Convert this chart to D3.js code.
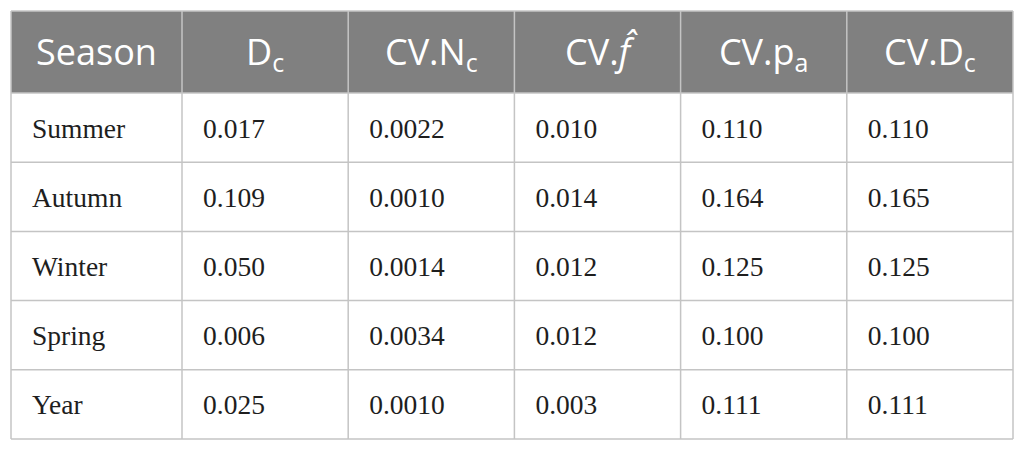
<!DOCTYPE html>
<html>
<head>
<meta charset="utf-8">
<script src="https://cdn.jsdelivr.net/npm/d3@7"></script>
<style>
  body { margin: 0; background: #fff; }
</style>
</head>
<body>
<div id="table-chart"></div>
<script>
var width = 1025,
    height = 450,
    margin = { top: 11, right: 12, bottom: 11, left: 11 },
    headerHeight = 82,
    firstColRight = 182;

// table contents
var seasons = ["Summer", "Autumn", "Winter", "Spring", "Year"];
var dc = ["0.017", "0.109", "0.050", "0.006", "0.025"];
var cvNc = ["0.0022", "0.0010", "0.0014", "0.0034", "0.0010"];
var cvF = ["0.010", "0.014", "0.012", "0.012", "0.003"];
var cvPa = ["0.110", "0.164", "0.125", "0.100", "0.111"];
var cvDc = ["0.110", "0.165", "0.125", "0.100", "0.111"];

// headers: main text + subscript (f-hat handled separately)
var headers = [
    { main: "Season", sub: "" },
    { main: "D", sub: "c" },
    { main: "CV.N", sub: "c" },
    { main: "CV.", sub: "", hat: true },
    { main: "CV.p", sub: "a" },
    { main: "CV.D", sub: "c" }
];

var columns = [seasons, dc, cvNc, cvF, cvPa, cvDc];

// first column is a bit wider, the value columns share the rest
var xv = d3.scaleLinear()
    .domain([1, headers.length])
    .range([firstColRight, width - margin.right]);
function edge(i) { return i === 0 ? margin.left : xv(i); }
function colWidth(i) { return edge(i + 1) - edge(i); }

var y = d3.scaleBand()
    .domain(d3.range(seasons.length))
    .range([margin.top + headerHeight, height - margin.bottom]);

var svg = d3.select("#table-chart").append("svg")
    .attr("width", width)
    .attr("height", height);

// header background
svg.append("rect")
    .attr("x", margin.left)
    .attr("y", margin.top)
    .attr("width", width - margin.left - margin.right)
    .attr("height", headerHeight)
    .attr("fill", "#808080");

// header labels
var head = svg.selectAll(".head")
    .data(headers)
    .enter().append("text")
    .attr("class", "head")
    .attr("x", function (d, i) { return edge(i) + colWidth(i) / 2; })
    .attr("y", margin.top + 54)
    .attr("text-anchor", "middle")
    .attr("fill", "#fff")
    .style("font-family", "'Open Sans', sans-serif")
    .style("font-size", "36px");

head.append("tspan").text(function (d) { return d.main; });
head.filter(function (d) { return d.hat; })
    .append("tspan")
    .style("font-style", "italic")
    .text("f\u0302");
head.filter(function (d) { return d.sub; })
    .append("tspan")
    .attr("dy", 7)
    .style("font-size", "25px")
    .text(function (d) { return d.sub; });

// body cells
var cells = [];
columns.forEach(function (col, c) {
    col.forEach(function (v, r) { cells.push({ c: c, r: r, v: v }); });
});

svg.selectAll(".cell")
    .data(cells)
    .enter().append("text")
    .attr("class", "cell")
    .attr("x", function (d) { return edge(d.c) + 21; })
    .attr("y", function (d) { return y(d.r) + y.bandwidth() / 2 + 10; })
    .attr("fill", "#1e1e1e")
    .style("font-family", "'Liberation Serif', serif")
    .style("font-size", "27.5px")
    .text(function (d) { return d.v; });

// grid lines
var gridColor = "#c4c4c4";

svg.selectAll(".hline")
    .data(d3.range(seasons.length))
    .enter().append("line")
    .attr("class", "hline")
    .attr("x1", margin.left)
    .attr("x2", width - margin.right)
    .attr("y1", function (d) { return y(d) + y.bandwidth(); })
    .attr("y2", function (d) { return y(d) + y.bandwidth(); })
    .attr("stroke", gridColor)
    .attr("stroke-width", 1.5);

svg.selectAll(".vline")
    .data(d3.range(headers.length + 1))
    .enter().append("line")
    .attr("class", "vline")
    .attr("x1", function (d) { return edge(d); })
    .attr("x2", function (d) { return edge(d); })
    .attr("y1", margin.top)
    .attr("y2", height - margin.bottom)
    .attr("stroke", gridColor)
    .attr("stroke-width", 1.5);

svg.append("line")
    .attr("x1", margin.left)
    .attr("x2", width - margin.right)
    .attr("y1", margin.top)
    .attr("y2", margin.top)
    .attr("stroke", gridColor)
    .attr("stroke-width", 1.5);

svg.append("line")
    .attr("x1", margin.left)
    .attr("x2", width - margin.right)
    .attr("y1", margin.top + headerHeight)
    .attr("y2", margin.top + headerHeight)
    .attr("stroke", gridColor)
    .attr("stroke-width", 1.5);
</script>
</body>
</html>
